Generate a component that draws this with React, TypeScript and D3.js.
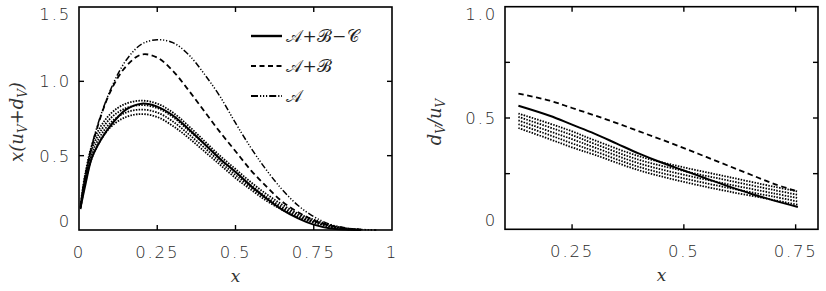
import React, { useEffect, useRef } from "react";
import * as d3 from "d3";

// ---------- left panel: x(u_V + d_V) ----------
const leftXTicks = [0, 0.25, 0.5, 0.75, 1];
const leftXTickLabels = ["0", "0.25", "0.5", "0.75", "1"];
const leftYTicks = [0, 0.5, 1.0, 1.5];
const leftYTickLabels = ["0", "0.5", "1.0", "1.5"];

const leftSolid = [
  [0.005, 0.15], [0.02, 0.3], [0.04, 0.48], [0.06, 0.57], [0.1, 0.7], [0.15, 0.81],
  [0.2, 0.85], [0.25, 0.83], [0.3, 0.77], [0.35, 0.68], [0.4, 0.58], [0.45, 0.48],
  [0.5, 0.39], [0.55, 0.295], [0.6, 0.21], [0.65, 0.135], [0.7, 0.078], [0.75, 0.036],
  [0.8, 0.012], [0.85, 0.003], [0.9, 0],
];
const leftDashed = [
  [0.005, 0.15], [0.02, 0.36], [0.05, 0.63], [0.1, 0.93], [0.15, 1.1], [0.2, 1.18],
  [0.25, 1.16], [0.3, 1.07], [0.35, 0.94], [0.4, 0.8], [0.45, 0.66], [0.5, 0.53],
  [0.55, 0.4], [0.6, 0.29], [0.65, 0.19], [0.7, 0.12], [0.75, 0.065], [0.8, 0.03],
  [0.85, 0.01], [0.9, 0.002],
];
const leftDashDot = [
  [0.005, 0.15], [0.02, 0.36], [0.05, 0.64], [0.1, 0.94], [0.15, 1.14], [0.2, 1.25],
  [0.25, 1.28], [0.3, 1.26], [0.35, 1.18], [0.4, 1.05], [0.45, 0.9], [0.5, 0.72],
  [0.55, 0.55], [0.6, 0.4], [0.65, 0.27], [0.7, 0.165], [0.75, 0.09], [0.8, 0.04],
  [0.85, 0.015], [0.9, 0.004], [0.95, 0],
];
const leftDotted = [
  [
    [0.005, 0.17], [0.02, 0.38], [0.05, 0.62], [0.1, 0.78], [0.15, 0.85], [0.2, 0.87],
    [0.25, 0.85], [0.3, 0.79], [0.35, 0.7], [0.4, 0.6], [0.45, 0.5], [0.5, 0.41],
    [0.55, 0.32], [0.6, 0.24], [0.65, 0.17], [0.7, 0.11], [0.75, 0.07], [0.8, 0.035],
    [0.85, 0.012], [0.9, 0.002],
  ],
  [
    [0.005, 0.16], [0.02, 0.36], [0.05, 0.59], [0.1, 0.75], [0.15, 0.82], [0.2, 0.84],
    [0.25, 0.82], [0.3, 0.76], [0.35, 0.67], [0.4, 0.58], [0.45, 0.48], [0.5, 0.39],
    [0.55, 0.3], [0.6, 0.22], [0.65, 0.155], [0.7, 0.1], [0.75, 0.06], [0.8, 0.03],
    [0.85, 0.01], [0.9, 0.002],
  ],
  [
    [0.005, 0.15], [0.02, 0.34], [0.05, 0.56], [0.1, 0.72], [0.15, 0.79], [0.2, 0.81],
    [0.25, 0.79], [0.3, 0.73], [0.35, 0.645], [0.4, 0.555], [0.45, 0.46], [0.5, 0.37],
    [0.55, 0.285], [0.6, 0.21], [0.65, 0.145], [0.7, 0.09], [0.75, 0.055], [0.8, 0.025],
    [0.85, 0.008], [0.9, 0.001],
  ],
  [
    [0.005, 0.14], [0.02, 0.32], [0.05, 0.53], [0.1, 0.69], [0.15, 0.76], [0.2, 0.78],
    [0.25, 0.76], [0.3, 0.7], [0.35, 0.62], [0.4, 0.53], [0.45, 0.44], [0.5, 0.35],
    [0.55, 0.27], [0.6, 0.195], [0.65, 0.135], [0.7, 0.085], [0.75, 0.05], [0.8, 0.022],
    [0.85, 0.007], [0.9, 0.001],
  ],
];

// ---------- right panel: d_V / u_V ----------
const rightXTicks = [0.25, 0.5, 0.75];
const rightXTickLabels = ["0.25", "0.5", "0.75"];
const rightYTicks = [0, 0.25, 0.5, 0.75, 1.0];
const rightYTickLabels = ["0", "", "0.5", "", "1.0"];

const rightSolid = [
  [0.13, 0.555], [0.2, 0.51], [0.25, 0.47], [0.3, 0.43], [0.35, 0.385], [0.4, 0.34],
  [0.45, 0.3], [0.5, 0.264], [0.55, 0.228], [0.6, 0.193], [0.65, 0.16], [0.7, 0.13],
  [0.755, 0.1],
];
const rightDashed = [
  [0.13, 0.61], [0.2, 0.578], [0.25, 0.545], [0.3, 0.512], [0.35, 0.477], [0.4, 0.44],
  [0.45, 0.403], [0.5, 0.365], [0.55, 0.325], [0.6, 0.285], [0.65, 0.245], [0.7, 0.205],
  [0.755, 0.17],
];
const rightDotted = [
  [[0.13, 0.52], [0.2, 0.475], [0.25, 0.44], [0.3, 0.4], [0.4, 0.328], [0.5, 0.278], [0.6, 0.235], [0.7, 0.192], [0.755, 0.17]],
  [[0.13, 0.505], [0.2, 0.458], [0.25, 0.423], [0.3, 0.384], [0.4, 0.312], [0.5, 0.262], [0.6, 0.219], [0.7, 0.177], [0.755, 0.155]],
  [[0.13, 0.489], [0.2, 0.44], [0.25, 0.405], [0.3, 0.368], [0.4, 0.296], [0.5, 0.245], [0.6, 0.202], [0.7, 0.162], [0.755, 0.14]],
  [[0.13, 0.472], [0.2, 0.423], [0.25, 0.386], [0.3, 0.351], [0.4, 0.28], [0.5, 0.229], [0.6, 0.186], [0.7, 0.147], [0.755, 0.125]],
  [[0.13, 0.455], [0.2, 0.405], [0.25, 0.368], [0.3, 0.335], [0.4, 0.265], [0.5, 0.213], [0.6, 0.17], [0.7, 0.132], [0.755, 0.11]],
];

const legendLabels = ["𝒜+ℬ−𝒞", "𝒜+ℬ", "𝒜"];

const W = 826;
const H = 291;
const TICK_FONT = "'DejaVu Sans', sans-serif";
const MATH_FONT = "'DejaVu Serif', 'Liberation Serif', serif";
const DASH = "5.5,3.5";
const DASHDOT = "6,2,1.2,1.8,1.2,1.8,1.2,2";
const DOT = "1.5,1.3";

function drawPanel(svg, opts) {
  const { left, right, top, bottom, xDomain, yDomain, xTicks, xLabels, yTicks, yLabels } = opts;
  const x = d3.scaleLinear().domain(xDomain).range([left, right]);
  const y = d3.scaleLinear().domain(yDomain).range([bottom, top]);
  const g = svg.append("g");

  const line = d3
    .line()
    .x((d) => x(d[0]))
    .y((d) => y(d[1]))
    .curve(d3.curveCatmullRom.alpha(0.5));

  opts.dotted.forEach((s) => {
    g.append("path").attr("d", line(s)).attr("fill", "none").attr("stroke", "#000")
      .attr("stroke-width", 1.8).attr("stroke-dasharray", DOT);
  });
  opts.series.forEach((s) => {
    g.append("path").attr("d", line(s.data)).attr("fill", "none").attr("stroke", "#000")
      .attr("stroke-width", s.width).attr("stroke-dasharray", s.dash);
  });

  // frame
  g.append("rect").attr("x", left).attr("y", top).attr("width", right - left)
    .attr("height", bottom - top).attr("fill", "none").attr("stroke", "#000").attr("stroke-width", 1.6);

  const tl = 5;
  xTicks.forEach((t, i) => {
    const px = x(t);
    if (t > xDomain[0] && t < xDomain[1]) {
      g.append("line").attr("x1", px).attr("x2", px).attr("y1", bottom).attr("y2", bottom - tl)
        .attr("stroke", "#000").attr("stroke-width", 1.4);
      g.append("line").attr("x1", px).attr("x2", px).attr("y1", top).attr("y2", top + tl)
        .attr("stroke", "#000").attr("stroke-width", 1.4);
    }
    g.append("text").attr("x", px).attr("y", bottom + 28).attr("text-anchor", "middle")
      .attr("font-family", TICK_FONT).attr("font-weight", 200).attr("font-size", 16.5)
      .attr("letter-spacing", 1.8).attr("fill", "#2a2a2a").text(xLabels[i]);
  });
  yTicks.forEach((t, i) => {
    const py = y(t);
    if (t > yDomain[0] && t < yDomain[1]) {
      g.append("line").attr("x1", left).attr("x2", left + tl).attr("y1", py).attr("y2", py)
        .attr("stroke", "#000").attr("stroke-width", 1.4);
      g.append("line").attr("x1", right).attr("x2", right - tl).attr("y1", py).attr("y2", py)
        .attr("stroke", "#000").attr("stroke-width", 1.4);
    }
    if (yLabels[i]) {
      // end labels are pulled inside the frame, as in the original
      const cy = Math.min(Math.max(py, top + 7), bottom - 9);
      g.append("text").attr("x", left - 8).attr("y", cy + 6).attr("text-anchor", "end")
        .attr("font-family", TICK_FONT).attr("font-weight", 200).attr("font-size", 16.5)
        .attr("letter-spacing", 1.8).attr("fill", "#2a2a2a").text(yLabels[i]);
    }
  });

  // x axis title
  g.append("text").attr("x", (left + right) / 2).attr("y", bottom + 52).attr("text-anchor", "middle")
    .attr("font-family", MATH_FONT).attr("font-style", "italic").attr("font-size", 17)
    .attr("fill", "#333").text("x");
  return { x, y, g };
}

function App() {
  const ref = useRef(null);
  useEffect(() => {
    const svg = d3.select(ref.current);
    svg.selectAll("*").remove();

    const L = drawPanel(svg, {
      left: 79, right: 392, top: 7, bottom: 230,
      xDomain: [0, 1], yDomain: [0, 1.5],
      xTicks: leftXTicks, xLabels: leftXTickLabels,
      yTicks: leftYTicks, yLabels: leftYTickLabels,
      dotted: leftDotted,
      series: [
        { data: leftDashDot, dash: DASHDOT, width: 1.5 },
        { data: leftDashed, dash: DASH, width: 1.8 },
        { data: leftSolid, dash: null, width: 2 },
      ],
    });

    drawPanel(svg, {
      left: 505, right: 818, top: 6.7, bottom: 229.3,
      xDomain: [0.1, 0.8], yDomain: [0, 1],
      xTicks: rightXTicks, xLabels: rightXTickLabels,
      yTicks: rightYTicks, yLabels: rightYTickLabels,
      dotted: rightDotted,
      series: [
        { data: rightDashed, dash: DASH, width: 1.8 },
        { data: rightSolid, dash: null, width: 2 },
      ],
    });

    // legend
    const styles = [
      { dash: null, width: 2.4 },
      { dash: "5,3.5", width: 1.8 },
      { dash: "7,2,1.2,1.8,1.2,1.8,1.2,2", width: 1.8 },
    ];
    legendLabels.forEach((lab, i) => {
      const yy = 36 + i * 30;
      L.g.append("line").attr("x1", 251).attr("x2", 282).attr("y1", yy).attr("y2", yy)
        .attr("stroke", "#000").attr("stroke-width", styles[i].width)
        .attr("stroke-dasharray", styles[i].dash);
      L.g.append("text").attr("x", 286).attr("y", yy + 6).attr("font-family", MATH_FONT)
        .attr("font-size", 17).attr("letter-spacing", 0.6).attr("fill", "#222").text(lab);
    });

    // y titles
    const yt1 = svg.append("text").attr("transform", "translate(23,122) rotate(-90)")
      .attr("text-anchor", "middle").attr("font-family", MATH_FONT).attr("font-style", "italic")
      .attr("font-size", 18).attr("fill", "#333");
    yt1.append("tspan").text("x(u");
    yt1.append("tspan").attr("font-size", 12).attr("dy", 4).text("V");
    yt1.append("tspan").attr("dy", -4).text("+d");
    yt1.append("tspan").attr("font-size", 12).attr("dy", 4).text("V");
    yt1.append("tspan").attr("dy", -4).text(")");

    const yt2 = svg.append("text").attr("transform", "translate(441,122) rotate(-90)")
      .attr("text-anchor", "middle").attr("font-family", MATH_FONT).attr("font-style", "italic")
      .attr("font-size", 18).attr("fill", "#333");
    yt2.append("tspan").text("d");
    yt2.append("tspan").attr("font-size", 12).attr("dy", 4).text("V");
    yt2.append("tspan").attr("dy", -4).text("/u");
    yt2.append("tspan").attr("font-size", 12).attr("dy", 4).text("V");
  }, []);

  return (
    <svg ref={ref} width={W} height={H} style={{ position: "absolute", left: 0, top: 0, background: "#fff" }} />
  );
}

export default App;
